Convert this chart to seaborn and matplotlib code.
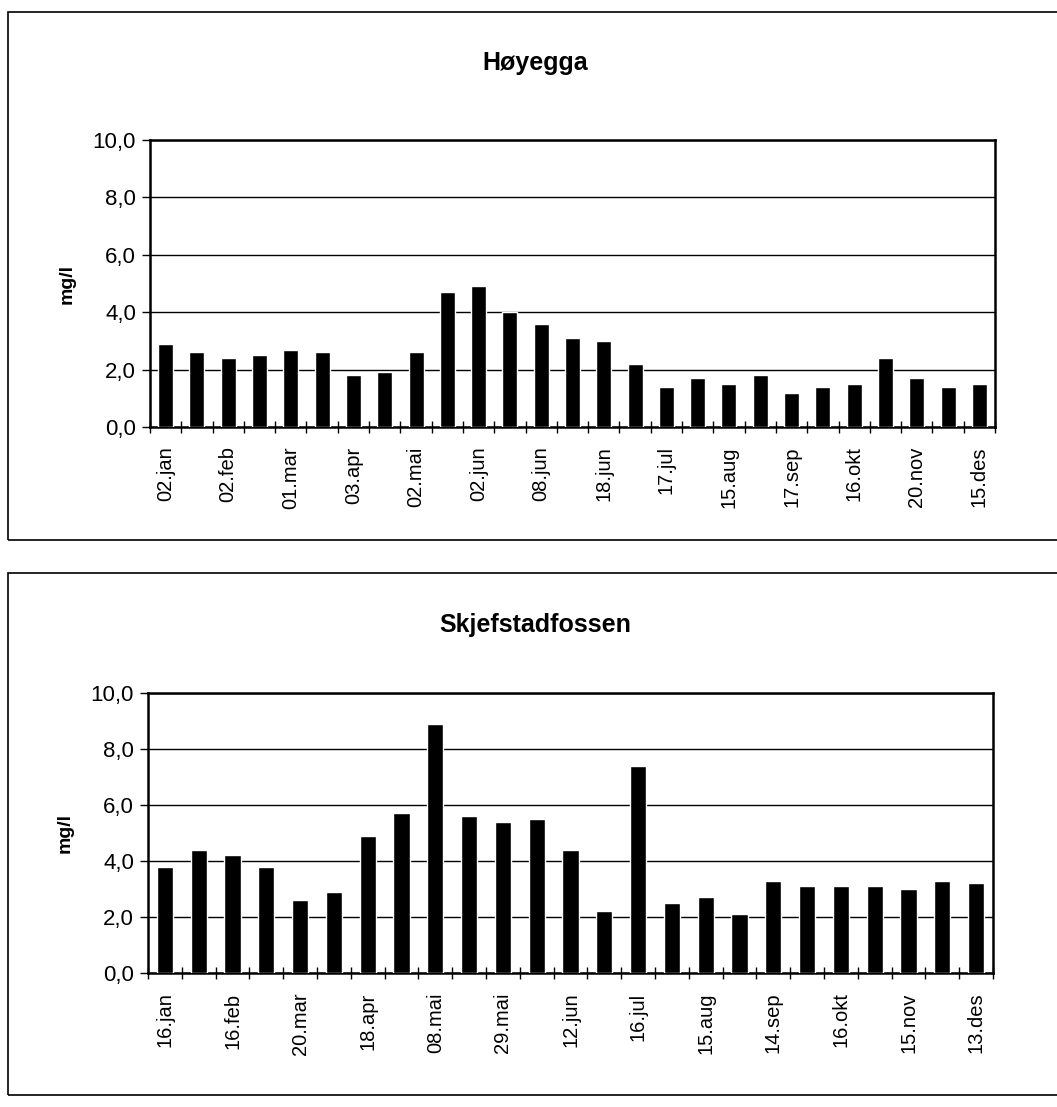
import numpy as np
import pandas as pd
import seaborn as sns
from matplotlib import pyplot as plt
from matplotlib.patches import Rectangle
from matplotlib.ticker import FuncFormatter, FixedLocator

sns.set_theme(style="white")
plt.rcParams['font.family'] = ['Liberation Sans', 'DejaVu Sans']
plt.rcParams['text.color'] = 'black'
plt.rcParams['xtick.color'] = 'black'
plt.rcParams['ytick.color'] = 'black'
plt.rcParams['axes.labelcolor'] = 'black'

# Høyegga
hoy_labels = ['02.jan', '02.feb', '01.mar', '03.apr', '02.mai', '02.jun', '08.jun',
              '18.jun', '17.jul', '15.aug', '17.sep', '16.okt', '20.nov', '15.des']
hoy_values = [2.9, 2.6, 2.4, 2.5, 2.7, 2.6, 1.8, 1.9, 2.6, 4.7, 4.9, 4.0, 3.6, 3.1,
              3.0, 2.2, 1.4, 1.7, 1.5, 1.8, 1.2, 1.4, 1.5, 2.4, 1.7, 1.4, 1.5]

# Skjefstadfossen
skj_labels = ['16.jan', '16.feb', '20.mar', '18.apr', '08.mai', '29.mai', '12.jun',
              '16.jul', '15.aug', '14.sep', '16.okt', '15.nov', '13.des']
skj_values = [3.8, 4.4, 4.2, 3.8, 2.6, 2.9, 4.9, 5.7, 8.9, 5.6, 5.4, 5.5, 4.4,
              2.2, 7.4, 2.5, 2.7, 2.1, 3.3, 3.1, 3.1, 3.1, 3.0, 3.3, 3.2]

W, H = 1057, 1107
fig = plt.figure(figsize=(W / 100, H / 100), dpi=100)


def fx(px):
    return px / W


def fy(py):
    return 1 - py / H


def draw(ax, values, labels, title, title_y):
    df = pd.DataFrame({'pos': np.arange(len(values)), 'val': values})
    sns.barplot(data=df, x='pos', y='val', color='black', width=0.48,
                saturation=1, ax=ax, zorder=3)
    n = len(values)
    ax.set_xlim(-0.5, n - 0.5)
    ax.set_ylim(0, 10)
    ax.set_yticks(np.arange(0, 10.1, 2))
    ax.yaxis.set_major_formatter(FuncFormatter(lambda v, p: f'{v:.1f}'.replace('.', ',')))
    ax.grid(axis='y', color='black', linewidth=1, zorder=0)
    ax.set_axisbelow(True)
    ax.xaxis.set_major_locator(FixedLocator(np.arange(0, n, 2)))
    ax.set_xticklabels(labels, rotation=90, fontsize=14.5)
    ax.xaxis.set_minor_locator(FixedLocator(np.arange(-0.5, n, 1)))
    ax.tick_params(axis='x', which='major', length=0, pad=14)
    ax.tick_params(axis='x', which='minor', length=8, width=1, direction='inout',
                   color='black', bottom=True)
    ax.tick_params(axis='y', length=6, width=1, direction='out', color='black',
                   left=True, labelsize=16, pad=4)
    for s in ax.spines.values():
        s.set_color('black')
        s.set_linewidth(1.8)
    ax.set_xlabel('')
    ax.set_ylabel('mg/l', fontsize=14, fontweight='bold', labelpad=12)
    fig.text(fx(535), fy(title_y), title, fontsize=18, fontweight='bold',
             ha='center', va='center')


ax1 = fig.add_axes([fx(150), fy(427), fx(995 - 150), (427 - 140) / H])
draw(ax1, hoy_values, hoy_labels, 'Høyegga', 63)

ax2 = fig.add_axes([fx(148), fy(973), fx(993 - 148), (973 - 693) / H])
draw(ax2, skj_values, skj_labels, 'Skjefstadfossen', 625)

# chart area frames
fig.patches.append(Rectangle((fx(8), fy(540)), fx(1060 - 8), (540 - 12) / H,
                             transform=fig.transFigure, fill=False,
                             edgecolor='black', linewidth=1.2))
fig.patches.append(Rectangle((fx(8), fy(1095)), fx(1060 - 8), (1095 - 573) / H,
                             transform=fig.transFigure, fill=False,
                             edgecolor='black', linewidth=1.2))

fig.savefig('out.png', dpi=100)
